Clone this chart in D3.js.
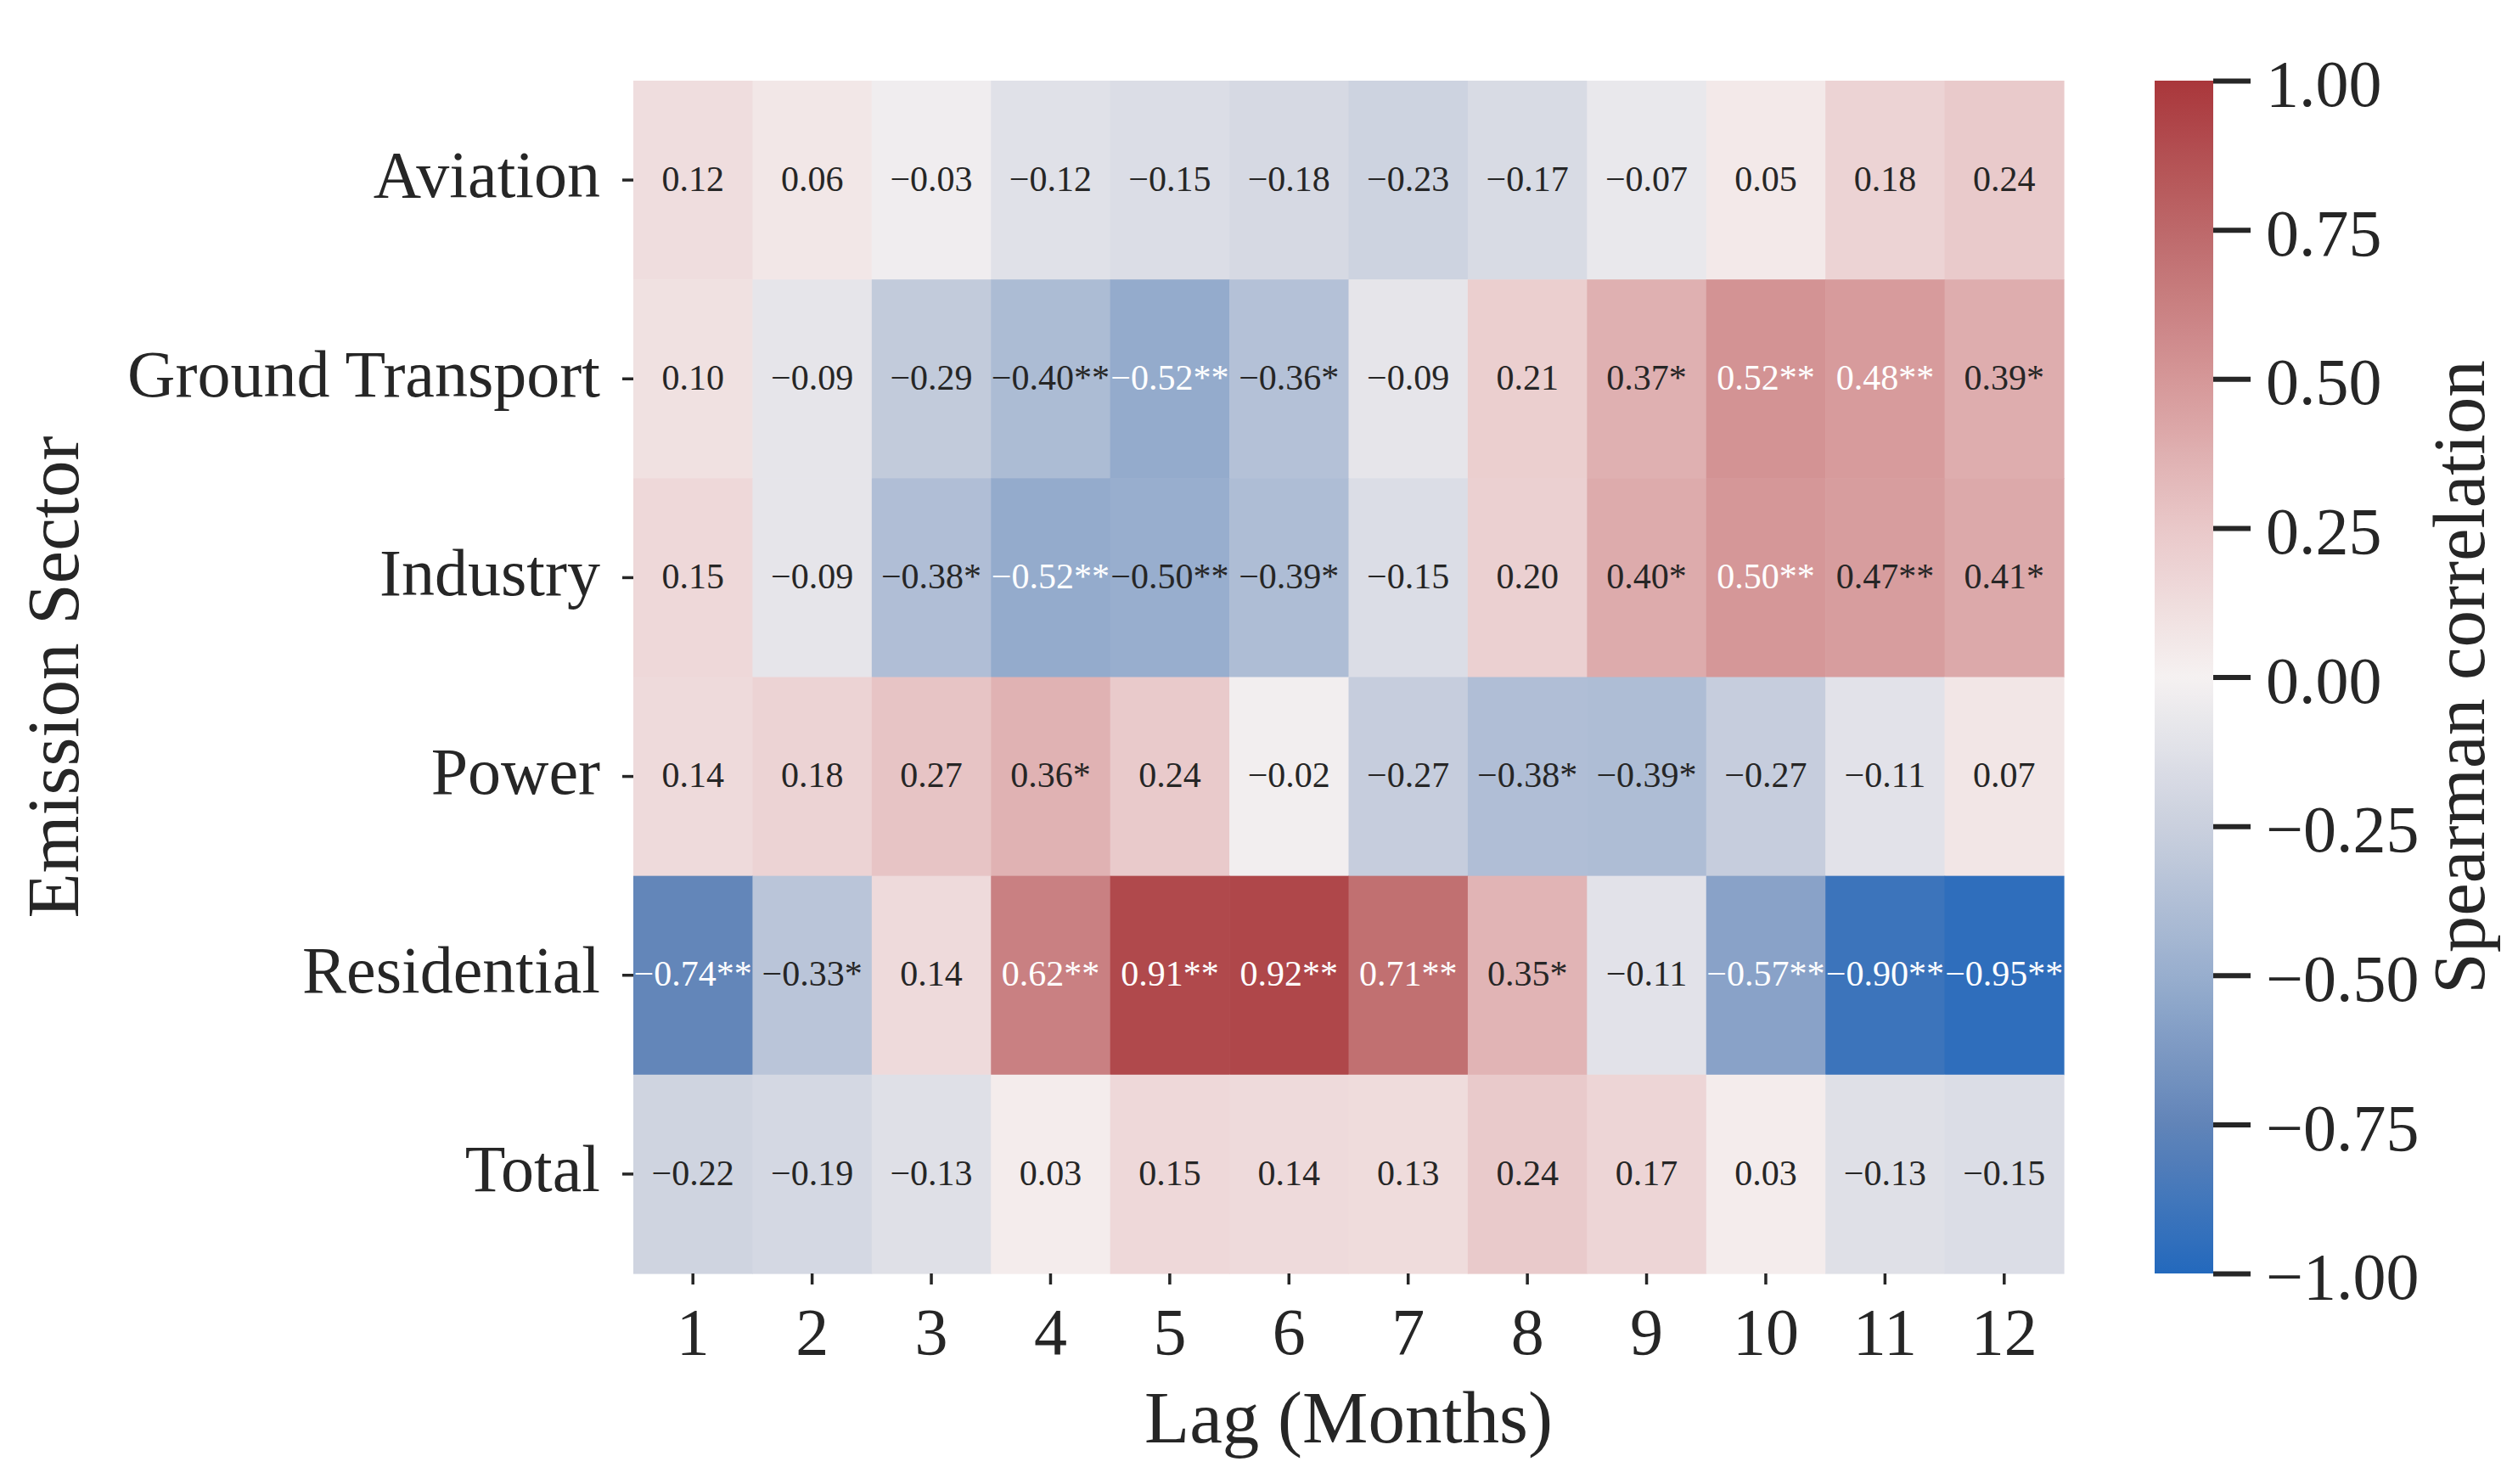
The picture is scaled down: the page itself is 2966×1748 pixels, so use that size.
<!DOCTYPE html>
<html>
<head>
<meta charset="utf-8">
<script src="https://cdn.jsdelivr.net/npm/d3@7"></script>
<style>
    body { margin: 0; background: #fff; }
    svg { display: block; }
</style>
</head>
<body>
<svg id="chart"></svg>
<script>
// ---- data ----
var sectors = ['Aviation', 'Ground Transport', 'Industry', 'Power', 'Residential', 'Total'];
var lags = [1, 2, 3, 4, 5, 6, 7, 8, 9, 10, 11, 12];

var aviation        = [0.12, 0.06, -0.03, -0.12, -0.15, -0.18, -0.23, -0.17, -0.07, 0.05, 0.18, 0.24];
var groundTransport = [0.10, -0.09, -0.29, -0.40, -0.52, -0.36, -0.09, 0.21, 0.37, 0.52, 0.48, 0.39];
var industry        = [0.15, -0.09, -0.38, -0.52, -0.50, -0.39, -0.15, 0.20, 0.40, 0.50, 0.47, 0.41];
var power           = [0.14, 0.18, 0.27, 0.36, 0.24, -0.02, -0.27, -0.38, -0.39, -0.27, -0.11, 0.07];
var residential     = [-0.74, -0.33, 0.14, 0.62, 0.91, 0.92, 0.71, 0.35, -0.11, -0.57, -0.90, -0.95];
var total           = [-0.22, -0.19, -0.13, 0.03, 0.15, 0.14, 0.13, 0.24, 0.17, 0.03, -0.13, -0.15];

// significance: number of stars after each value
var aviationSig        = [0, 0, 0, 0, 0, 0, 0, 0, 0, 0, 0, 0];
var groundTransportSig = [0, 0, 0, 2, 2, 1, 0, 0, 1, 2, 2, 1];
var industrySig        = [0, 0, 1, 2, 2, 1, 0, 0, 1, 2, 2, 1];
var powerSig           = [0, 0, 0, 1, 0, 0, 0, 1, 1, 0, 0, 0];
var residentialSig     = [2, 1, 0, 2, 2, 2, 2, 1, 0, 2, 2, 2];
var totalSig           = [0, 0, 0, 0, 0, 0, 0, 0, 0, 0, 0, 0];

var colorbarTicks = [-1, -0.75, -0.5, -0.25, 0, 0.25, 0.5, 0.75, 1];

var rho = [aviation, groundTransport, industry, power, residential, total];
var sig = [aviationSig, groundTransportSig, industrySig, powerSig, residentialSig, totalSig];

// ---- style ----
var W = 2966, H = 1748;
var FONT = '"Liberation Serif", "Times New Roman", serif';
var INK = '#262626';
var plot = { left: 746, right: 2431, top: 95, bottom: 1500 };
var cbar = { left: 2538, right: 2607 };

// vlag-like diverging map
var cmapStops  = [-1, -0.75, -0.5, -0.25, 0, 0.25, 0.5, 0.75, 1];
var cmapColors = ['#2369bd', '#6184b8', '#98aece', '#cad0de', '#f5f1f1',
                  '#e9c8c9', '#d59798', '#bd686a', '#a9373b'];

var color = d3.scaleLinear()
    .domain(cmapStops)
    .range(cmapColors)
    .interpolate(d3.interpolateRgb)
    .clamp(true);

// same rule seaborn uses to pick the annotation colour
function luminance(c) {
    var rgb = d3.rgb(c);
    var ch = [rgb.r, rgb.g, rgb.b].map(function(v) {
        v = v / 255;
        return v <= 0.03928 ? v / 12.92 : Math.pow((v + 0.055) / 1.055, 2.4);
    });
    return 0.2126 * ch[0] + 0.7152 * ch[1] + 0.0722 * ch[2];
}

var fmt = d3.format('.2f');

var svg = d3.select('#chart').attr('width', W).attr('height', H);
svg.append('rect').attr('width', W).attr('height', H).attr('fill', '#fff');

var x = d3.scaleBand().domain(lags).range([plot.left, plot.right]);
var y = d3.scaleBand().domain(sectors).range([plot.top, plot.bottom]);

// flatten to cells
var cells = [];
sectors.forEach(function(s, i) {
    lags.forEach(function(l, j) {
        cells.push({ sector: s, lag: l, v: rho[i][j], stars: sig[i][j] });
    });
});

var cellG = svg.append('g').attr('class', 'cells');
cellG.selectAll('rect')
    .data(cells)
  .enter().append('rect')
    .attr('x', function(d) { return x(d.lag); })
    .attr('y', function(d) { return y(d.sector); })
    .attr('width', x.bandwidth() + 0.6)
    .attr('height', y.bandwidth() + 0.6)
    .attr('fill', function(d) { return color(d.v); });

cellG.selectAll('text')
    .data(cells)
  .enter().append('text')
    .attr('x', function(d) { return x(d.lag) + x.bandwidth() / 2; })
    .attr('y', function(d) { return y(d.sector) + y.bandwidth() / 2; })
    .attr('dy', '0.3em')
    .attr('text-anchor', 'middle')
    .style('font-family', FONT)
    .style('font-size', '42px')
    .attr('fill', function(d) { return luminance(color(d.v)) > 0.408 ? INK : '#fff'; })
    .text(function(d) { return fmt(d.v) + '*'.repeat(d.stars); });

// ---- axes ----
function styleAxis(g, width) {
    g.select('.domain').remove();
    g.selectAll('.tick line').attr('stroke', INK).attr('stroke-width', width);
    g.selectAll('.tick text')
        .attr('fill', INK)
        .style('font-family', FONT)
        .style('font-size', '78px');
}

var yAxis = svg.append('g')
    .attr('transform', 'translate(' + plot.left + ',0)')
    .call(d3.axisLeft(y).tickSize(13).tickPadding(26));
styleAxis(yAxis, 3.5);
yAxis.selectAll('.tick text').attr('dy', '0.26em');

var xAxis = svg.append('g')
    .attr('transform', 'translate(0,' + plot.bottom + ')')
    .call(d3.axisBottom(x).tickSize(13));
styleAxis(xAxis, 3.5);
xAxis.selectAll('.tick text').attr('y', 95).attr('dy', 0);

svg.append('text')
    .attr('x', (plot.left + plot.right) / 2)
    .attr('y', 1699)
    .attr('text-anchor', 'middle')
    .attr('fill', INK)
    .style('font-family', FONT)
    .style('font-size', '87px')
    .text('Lag (Months)');

svg.append('text')
    .attr('transform', 'translate(92,' + (plot.top + plot.bottom) / 2 + ') rotate(-90)')
    .attr('text-anchor', 'middle')
    .attr('fill', INK)
    .style('font-family', FONT)
    .style('font-size', '87px')
    .text('Emission Sector');

// ---- colorbar ----
var grad = svg.append('defs').append('linearGradient')
    .attr('id', 'cbarGrad')
    .attr('x1', 0).attr('y1', 1).attr('x2', 0).attr('y2', 0);
grad.selectAll('stop')
    .data(d3.range(0, 1.0001, 1 / 64))
  .enter().append('stop')
    .attr('offset', function(t) { return t; })
    .attr('stop-color', function(t) { return color(t * 2 - 1); });

svg.append('rect')
    .attr('x', cbar.left)
    .attr('y', plot.top)
    .attr('width', cbar.right - cbar.left)
    .attr('height', plot.bottom - plot.top)
    .attr('fill', 'url(#cbarGrad)');

var cScale = d3.scaleLinear().domain([-1, 1]).range([plot.bottom, plot.top]);
var cAxis = svg.append('g')
    .attr('transform', 'translate(' + cbar.right + ',0)')
    .call(d3.axisRight(cScale).tickValues(colorbarTicks).tickFormat(fmt).tickSize(44).tickPadding(18));
styleAxis(cAxis, 6);
cAxis.selectAll('.tick text').attr('dy', '0.38em');

svg.append('text')
    .attr('transform', 'translate(2926,' + (plot.top + plot.bottom) / 2 + ') rotate(-90)')
    .attr('text-anchor', 'middle')
    .attr('fill', INK)
    .style('font-family', FONT)
    .style('font-size', '87px')
    .text('Spearman correlation');
</script>
</body>
</html>
